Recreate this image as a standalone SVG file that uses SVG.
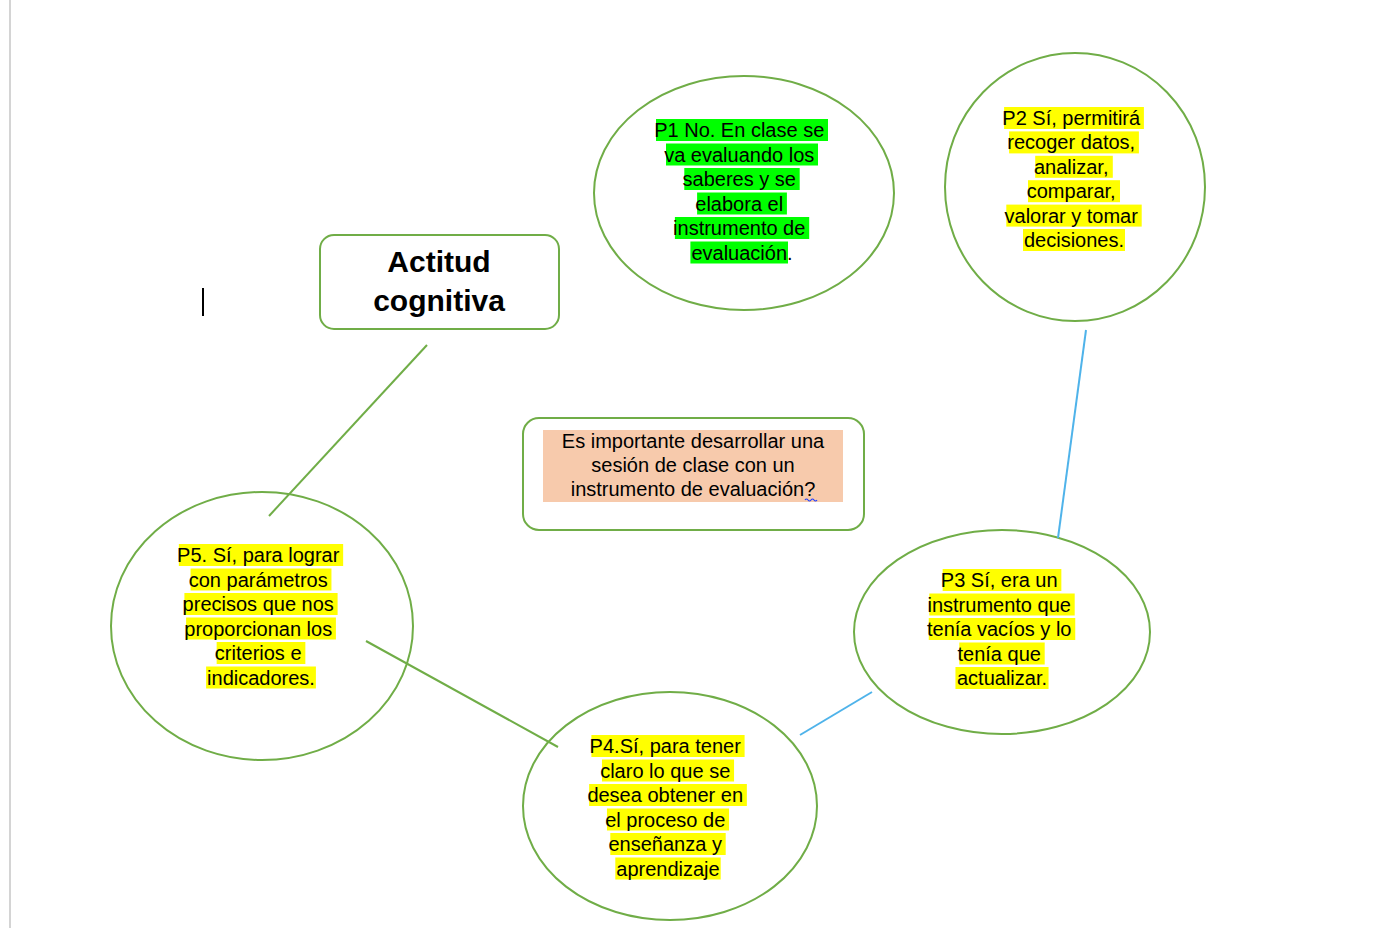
<svg xmlns="http://www.w3.org/2000/svg" width="1383" height="928" viewBox="0 0 1383 928">
<style>
.node{fill:#ffffff;stroke:#70ad47;stroke-width:2}
.t{font-family:"Liberation Sans",Arial,sans-serif;font-size:20px;fill:#000;text-anchor:middle}
.title{font-family:"Liberation Sans",Arial,sans-serif;font-size:30px;font-weight:bold;fill:#000;text-anchor:middle}
.hy{fill:#ffff00}
.hg{fill:#00ff00}
.green{stroke:#70ad47;stroke-width:2;fill:none}
.blue{stroke:#4fb3ea;stroke-width:2;fill:none}
</style>
<rect x="0" y="0" width="1383" height="928" fill="#ffffff"/>
<line x1="10" y1="0" x2="10" y2="928" stroke="#d4d4d4" stroke-width="2"/>
<line x1="203" y1="288" x2="203" y2="316" stroke="#000" stroke-width="2"/>

<g id="title">
<rect class="node" x="320" y="235" width="239" height="94" rx="14"/>
<text class="title" x="439" y="272">Actitud</text>
<text class="title" x="439" y="311">cognitiva</text>
</g>

<g id="question">
<rect class="node" x="523" y="418" width="341" height="112" rx="16"/>
<rect x="543" y="430" width="300" height="72" fill="#f7caac"/>
<text class="t" x="693" y="448">Es importante desarrollar una</text>
<text class="t" x="693" y="472">sesión de clase con un</text>
<text class="t" x="693" y="496">instrumento de evaluación?</text>
<path d="M805,500 q1.5,-2 3,0 t3,0 t3,0 t3,0" stroke="#2040ff" stroke-width="1.2" fill="none"/>
</g>

<g id="p1">
<ellipse class="node" cx="744" cy="193" rx="150" ry="117"/>
<rect class="hg" x="656" y="119" width="172" height="22"/>
<rect class="hg" x="666" y="143.5" width="152" height="22"/>
<rect class="hg" x="684.3" y="168" width="115.4" height="22"/>
<rect class="hg" x="697.1" y="192.5" width="89.8" height="22"/>
<rect class="hg" x="674.9" y="217" width="134.3" height="22"/>
<rect class="hg" x="690.4" y="241.5" width="97.6" height="22"/>
<text class="t">
<tspan x="742" y="137">P1 No. En clase se</tspan>
<tspan x="742" y="161.5">va evaluando los</tspan>
<tspan x="742" y="186">saberes y se</tspan>
<tspan x="742" y="210.5">elabora el</tspan>
<tspan x="742" y="235">instrumento de</tspan>
<tspan x="742" y="259.5">evaluación.</tspan>
</text>
</g>

<g id="p2">
<ellipse class="node" cx="1075" cy="187" rx="130" ry="134"/>
<rect class="hy" x="1004.1" y="107" width="139.8" height="22"/>
<rect class="hy" x="1009.1" y="131.4" width="129.8" height="22"/>
<rect class="hy" x="1035.2" y="155.8" width="77.6" height="22"/>
<rect class="hy" x="1028" y="180.2" width="92" height="22"/>
<rect class="hy" x="1006.3" y="204.6" width="135.4" height="22"/>
<rect class="hy" x="1023" y="229" width="102" height="22"/>
<text class="t">
<tspan x="1074" y="125">P2 Sí, permitirá</tspan>
<tspan x="1074" y="149.4">recoger datos,</tspan>
<tspan x="1074" y="173.8">analizar,</tspan>
<tspan x="1074" y="198.2">comparar,</tspan>
<tspan x="1074" y="222.6">valorar y tomar</tspan>
<tspan x="1074" y="247">decisiones.</tspan>
</text>
</g>

<g id="p3">
<ellipse class="node" cx="1002" cy="632" rx="148" ry="102"/>
<rect class="hy" x="942.65" y="569" width="118.7" height="22"/>
<rect class="hy" x="929.3" y="593.5" width="145.4" height="22"/>
<rect class="hy" x="928.75" y="618" width="146.5" height="22"/>
<rect class="hy" x="959.3" y="642.5" width="85.4" height="22"/>
<rect class="hy" x="955.45" y="667" width="93.1" height="22"/>
<text class="t">
<tspan x="1002" y="587">P3 Sí, era un</tspan>
<tspan x="1002" y="611.5">instrumento que</tspan>
<tspan x="1002" y="636">tenía vacíos y lo</tspan>
<tspan x="1002" y="660.5">tenía que</tspan>
<tspan x="1002" y="685">actualizar.</tspan>
</text>
</g>

<g id="p4">
<ellipse class="node" cx="670" cy="806" rx="147" ry="114"/>
<rect class="hy" x="591.4" y="735" width="153.2" height="22"/>
<rect class="hy" x="601.95" y="759.5" width="132.1" height="22"/>
<rect class="hy" x="589.15" y="784" width="157.7" height="22"/>
<rect class="hy" x="606.95" y="808.5" width="122.1" height="22"/>
<rect class="hy" x="610.3" y="833" width="115.4" height="22"/>
<rect class="hy" x="615.3" y="857.5" width="105.4" height="22"/>
<text class="t">
<tspan x="668" y="753">P4.Sí, para tener</tspan>
<tspan x="668" y="777.5">claro lo que se</tspan>
<tspan x="668" y="802">desea obtener en</tspan>
<tspan x="668" y="826.5">el proceso de</tspan>
<tspan x="668" y="851">enseñanza y</tspan>
<tspan x="668" y="875.5">aprendizaje</tspan>
</text>
</g>

<g id="p5">
<ellipse class="node" cx="262" cy="626" rx="151" ry="134"/>
<rect class="hy" x="178.85" y="544" width="164.3" height="22"/>
<rect class="hy" x="190.55" y="568.5" width="140.9" height="22"/>
<rect class="hy" x="184.4" y="593" width="153.2" height="22"/>
<rect class="hy" x="186.1" y="617.5" width="149.8" height="22"/>
<rect class="hy" x="216.65" y="642" width="88.7" height="22"/>
<rect class="hy" x="206.1" y="666.5" width="109.8" height="22"/>
<text class="t">
<tspan x="261" y="562">P5. Sí, para lograr</tspan>
<tspan x="261" y="586.5">con parámetros</tspan>
<tspan x="261" y="611">precisos que nos</tspan>
<tspan x="261" y="635.5">proporcionan los</tspan>
<tspan x="261" y="660">criterios e</tspan>
<tspan x="261" y="684.5">indicadores.</tspan>
</text>
</g>

<g id="connectors">
<line class="green" x1="427" y1="345" x2="269" y2="516"/>
<line class="blue" x1="1086" y1="330" x2="1058" y2="538"/>
<line class="blue" x1="872" y1="692" x2="800" y2="735" stroke="#5b9bd5"/>
<line class="green" x1="366" y1="641" x2="558" y2="747"/>
</g>
</svg>
